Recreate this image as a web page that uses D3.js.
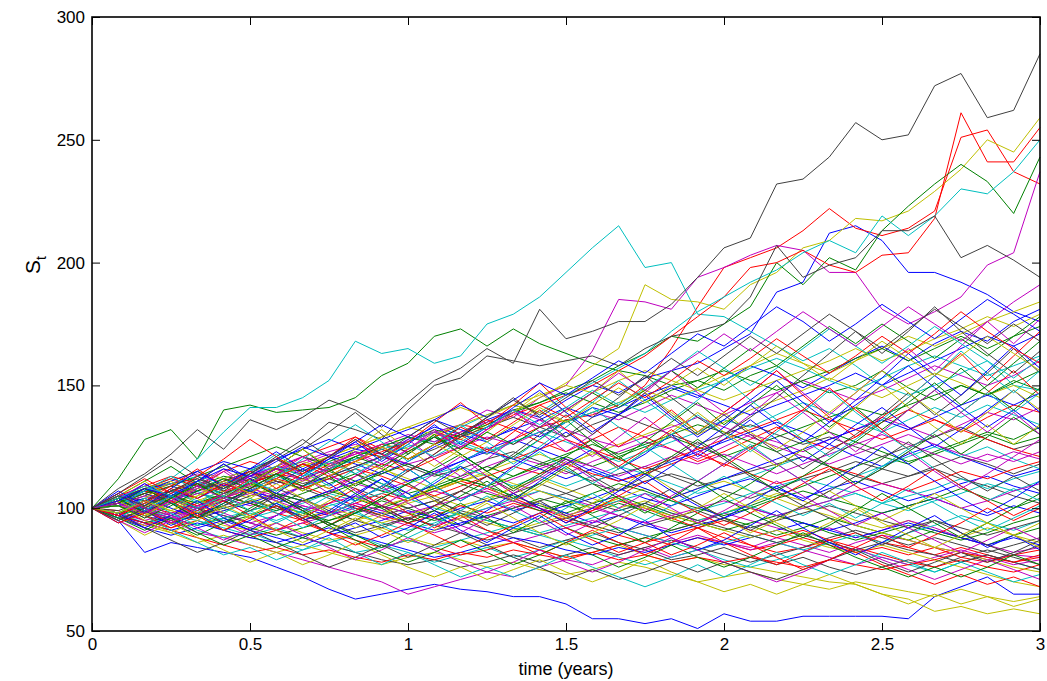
<!DOCTYPE html>
<html>
<head>
<meta charset="utf-8">
<script src="https://cdn.jsdelivr.net/npm/d3@7"></script>
<style>
  body { margin: 0; background: #fff; }
  text { font-family: "Liberation Sans", Arial, Helvetica, sans-serif; }
</style>
</head>
<body>
<div id="chart"></div>
<script>
// Simulated stock price paths S_t, monthly steps over 3 years (37 values per run).
// Runs are grouped by line colour; drawn interleaved b,g,r,c,m,y,k like matlab's colour order.

var blueRuns = [
  "100 | 104 101 106 110 108 113 | 117 115 120 124 122 128 | 133 130 136 140 137 144 | 150 147 153 156 159 165 | 171 188 192 212 215 209 | 196 196 192 187 180 176",
  "100 | 95 82 86 84 82 80 | 76 72 67 63 65 67 | 69 67 66 64 64 61 | 55 55 53 55 51 57 | 54 54 56 56 56 56 | 55 64 68 72 65 65",
  "100 | 98 103 107 104 109 113 | 110 116 121 118 114 119 | 125 130 127 133 129 135 | 141 138 144 149 145 152 | 158 154 149 155 161 166 | 160 167 172 168 176 181",
  "100 | 103 106 102 99 103 107 | 104 109 113 117 121 118 | 114 119 124 128 124 120 | 115 111 115 119 123 127 | 131 135 131 126 121 117 | 122 126 121 117 113 116",
  "100 | 96 92 89 92 95 91 | 88 85 89 92 95 99 | 96 100 103 99 102 98 | 94 97 93 90 93 96 | 100 97 94 91 94 98 | 101 104 100 97 101 98",
  "100 | 102 99 103 107 110 107 | 104 100 97 101 98 94 | 91 94 97 94 98 101 | 104 108 104 101 105 109 | 112 108 104 108 111 107 | 103 106 110 113 109 106",
  "100 | 103 107 111 115 119 116 | 120 124 128 124 128 132 | 136 132 128 132 136 141 | 137 141 146 150 146 142 | 138 142 146 150 155 150 | 155 160 165 170 166 171",
  "100 | 97 94 91 94 91 88 | 86 89 92 89 86 83 | 80 82 85 88 86 83 | 81 84 82 85 88 85 | 88 91 94 91 88 91 | 94 91 88 85 88 85",
  "100 | 101 104 100 96 99 102 | 106 103 107 111 115 111 | 115 119 123 120 116 112 | 116 112 108 104 108 112 | 116 120 124 128 132 136 | 132 137 142 146 142 147",
  "100 | 94 99 105 97 102 108 | 101 95 99 106 112 104 | 110 117 109 103 111 118 | 124 116 122 130 121 128 | 136 128 119 126 134 141 | 133 125 132 140 148 139",
  "100 | 106 99 93 98 91 95 | 102 96 90 94 88 92 | 98 91 86 92 97 90 | 85 89 95 88 83 87 | 93 99 92 86 81 86 | 92 97 90 84 89 83",
  "100 | 103 110 104 111 118 112 | 106 113 120 127 119 126 | 134 126 133 141 148 139 | 131 138 146 137 129 136 | 144 152 143 135 142 150 | 158 149 141 133 140 132",
  "100 | 98 92 97 103 96 91 | 97 104 98 105 112 106 | 99 93 99 106 100 94 | 100 107 114 107 101 96 | 102 109 103 110 117 125 | 118 111 104 98 104 111",
  "100 | 107 101 108 115 109 116 | 123 116 110 103 109 116 | 109 103 109 117 124 131 | 124 117 110 117 125 133 | 142 134 127 135 144 153 | 163 154 146 156 166 157",
  "100 | 103 108 105 111 116 113 | 119 125 121 127 134 129 | 136 142 137 144 151 146 | 153 160 155 163 171 166 | 174 182 176 168 175 183 | 176 169 177 185 179 172"
];

var greenRuns = [
  "100 | 112 128 132 120 140 142 | 139 140 141 145 154 159 | 170 173 166 173 167 163 | 159 156 154 150 152 148 | 154 158 151 147 150 156 | 149 144 150 146 152 148",
  "100 | 103 107 104 109 113 111 | 116 114 119 123 121 127 | 132 129 135 140 143 148 | 152 158 163 170 168 175 | 182 200 191 202 197 213 | 223 232 240 233 220 243",
  "100 | 103 99 95 98 94 97 | 101 98 95 99 103 100 | 96 93 97 100 104 101 | 98 102 99 95 92 96 | 93 89 92 96 93 90 | 87 91 88 85 89 92",
  "100 | 97 101 105 109 106 110 | 114 118 115 111 107 104 | 108 112 109 105 101 98 | 102 105 101 97 94 98 | 101 105 109 113 117 121 | 118 123 127 131 128 133",
  "100 | 104 108 104 100 103 99 | 102 106 110 114 110 106 | 109 113 117 113 118 122 | 126 122 126 130 134 131 | 127 123 127 131 127 123 | 119 122 126 130 126 129",
  "100 | 97 100 97 101 105 102 | 99 103 107 104 100 104 | 108 112 109 113 117 121 | 117 121 125 129 125 121 | 125 129 133 137 141 138 | 142 146 150 146 151 156",
  "100 | 96 99 96 93 96 92 | 89 92 95 98 101 98 | 95 98 95 92 89 92 | 88 85 88 91 94 91 | 94 97 94 90 87 90 | 93 90 87 90 94 97",
  "100 | 102 106 109 113 117 121 | 125 121 117 121 125 129 | 126 130 134 139 143 147 | 143 139 143 148 152 156 | 152 148 152 156 161 165 | 160 165 170 165 170 174",
  "100 | 98 101 105 102 106 110 | 106 103 106 110 114 118 | 114 110 106 103 99 102 | 106 110 107 103 100 97 | 100 104 107 104 101 98 | 101 104 108 104 100 104",
  "100 | 95 100 94 89 94 100 | 106 100 94 89 84 90 | 96 102 96 90 96 103 | 97 91 86 92 98 104 | 98 93 88 93 99 106 | 100 94 88 94 100 106",
  "100 | 105 111 117 110 104 110 | 117 124 116 109 115 122 | 130 122 115 121 128 136 | 127 120 127 135 143 134 | 142 150 141 133 141 132 | 140 148 157 148 140 149",
  "100 | 96 91 96 90 85 89 | 84 88 93 87 82 78 | 82 87 82 77 81 86 | 81 76 80 85 80 76 | 80 85 90 85 80 76 | 72 76 72 76 81 77",
  "100 | 102 108 102 96 102 108 | 114 107 113 106 100 94 | 99 105 111 104 110 117 | 110 104 98 104 111 104 | 110 117 124 117 110 116 | 123 130 122 129 137 130",
  "100 | 104 98 104 110 104 111 | 105 99 93 98 104 110 | 116 122 115 108 114 121 | 128 121 114 121 128 121 | 114 107 113 120 127 135 | 143 151 142 150 159 168",
  "100 | 101 96 101 107 112 108 | 114 109 115 121 117 123 | 129 124 131 126 133 140 | 147 141 148 156 149 157 | 165 158 166 174 167 175 | 168 161 169 162 170 178"
];

var redRuns = [
  "100 | 103 99 104 108 112 110 | 116 112 108 113 118 115 | 120 125 122 128 133 136 | 138 142 150 165 182 198 | 202 206 213 222 214 211 | 214 221 251 254 237 232",
  "100 | 98 102 105 101 106 110 | 114 112 118 122 126 123 | 129 134 132 138 142 146 | 150 156 162 170 178 186 | 198 200 205 199 196 203 | 204 218 261 241 241 255",
  "100 | 104 108 112 109 115 119 | 116 121 125 129 124 120 | 126 131 136 132 127 123 | 128 133 129 124 119 123 | 128 133 128 124 129 135 | 140 136 131 137 142 139",
  "100 | 99 95 92 95 91 88 | 91 94 90 87 84 87 | 84 81 83 86 83 80 | 82 85 88 85 88 86 | 83 85 88 85 82 84 | 81 84 80 78 81 83",
  "100 | 98 101 98 102 105 102 | 98 95 98 102 106 103 | 107 111 108 104 100 96 | 99 103 100 96 92 95 | 91 88 91 87 90 86 | 84 81 84 81 78 80",
  "100 | 103 107 104 101 104 108 | 112 109 105 101 97 94 | 97 101 98 102 99 95 | 92 89 86 89 92 88 | 85 82 84 87 84 81 | 78 76 79 76 74 77",
  "100 | 102 106 110 107 111 115 | 111 108 112 116 113 109 | 105 109 113 117 114 118 | 114 111 114 118 122 118 | 114 110 113 117 114 110 | 107 111 115 112 116 119",
  "100 | 105 109 113 110 107 110 | 114 118 115 119 123 127 | 131 128 124 120 124 128 | 124 120 116 120 124 128 | 132 136 140 136 132 128 | 132 136 132 128 124 121",
  "100 | 97 94 91 88 85 82 | 84 81 83 80 78 81 | 79 82 80 83 81 79 | 82 79 81 78 80 78 | 80 78 76 79 77 75 | 77 79 82 80 78 81",
  "100 | 105 99 94 99 105 112 | 105 99 93 99 105 98 | 92 97 91 86 81 86 | 91 86 81 86 92 86 | 81 77 82 87 82 77 | 73 69 73 69 72 68",
  "100 | 97 103 109 116 109 115 | 108 114 121 128 120 127 | 135 143 134 142 151 141 | 133 125 132 140 131 139 | 147 156 146 137 129 137 | 145 154 163 152 162 172",
  "100 | 103 97 92 97 103 97 | 91 96 102 108 101 95 | 101 107 113 106 100 94 | 99 105 111 104 98 93 | 98 104 110 116 109 103 | 109 116 109 103 97 102",
  "100 | 94 98 103 97 91 96 | 101 95 90 85 89 94 | 89 84 88 93 98 92 | 87 82 86 81 85 90 | 85 80 75 79 84 89 | 84 89 94 100 95 100",
  "100 | 106 112 106 113 120 128 | 121 114 121 129 122 115 | 122 130 123 131 140 132 | 124 117 124 132 124 117 | 124 132 140 149 140 132 | 124 131 139 147 156 146",
  "100 | 97 102 108 104 110 106 | 112 118 113 119 125 120 | 126 133 128 135 142 137 | 144 151 145 152 160 154 | 161 169 162 155 162 170 | 163 171 180 172 165 159"
];

var cyanRuns = [
  "100 | 104 108 112 120 131 141 | 141 145 152 168 163 165 | 159 162 175 179 186 196 | 206 215 198 200 179 178 | 172 166 160 165 158 150 | 146 150 155 160 150 148",
  "100 | 101 97 102 106 104 109 | 113 118 115 121 125 129 | 127 133 138 142 139 146 | 151 157 163 172 180 186 | 192 197 204 209 204 219 | 211 219 230 228 237 250",
  "100 | 97 94 96 91 88 90 | 86 83 86 89 85 82 | 78 81 84 80 83 87 | 84 80 77 80 83 79 | 76 79 82 86 83 80 | 77 74 78 81 78 75",
  "100 | 103 100 104 108 112 116 | 113 109 112 116 121 125 | 129 126 122 127 131 127 | 123 119 123 127 131 136 | 133 138 143 139 135 131 | 136 141 137 142 138 134",
  "100 | 101 104 107 103 100 96 | 99 102 106 103 106 110 | 114 117 113 109 113 109 | 113 117 114 110 106 109 | 113 117 121 117 113 117 | 121 125 121 125 120 116",
  "100 | 98 94 97 95 92 89 | 92 88 85 82 84 87 | 84 87 90 93 90 93 | 96 99 102 98 95 98 | 101 97 100 103 106 102 | 105 108 112 108 112 115",
  "100 | 104 100 96 93 96 99 | 102 98 101 104 108 104 | 100 97 100 104 107 104 | 100 103 106 103 99 102 | 106 109 112 109 106 102 | 99 103 106 110 107 111",
  "100 | 96 99 102 99 95 98 | 95 99 102 98 94 91 | 94 98 95 92 89 86 | 89 92 89 86 83 86 | 89 86 83 86 89 86 | 90 93 97 94 91 95",
  "100 | 103 107 110 113 110 114 | 117 113 116 120 124 127 | 131 127 123 127 131 135 | 139 143 139 144 148 152 | 157 161 157 152 148 153 | 158 162 158 154 158 162",
  "100 | 96 102 108 102 108 115 | 122 115 109 116 110 104 | 111 118 125 118 125 133 | 141 133 125 118 111 118 | 126 118 111 104 110 117 | 124 116 109 103 108 103",
  "100 | 103 97 91 86 81 84 | 79 83 88 82 77 82 | 77 72 76 72 76 81 | 76 72 68 72 77 72 | 77 82 77 73 77 82 | 78 74 78 74 70 73",
  "100 | 101 107 113 107 101 107 | 113 120 127 134 127 119 | 126 134 127 120 128 135 | 143 152 144 136 144 153 | 144 136 128 121 128 136 | 145 154 164 155 147 156",
  "100 | 105 99 105 111 105 99 | 94 99 105 99 93 88 | 93 99 105 99 94 100 | 106 100 95 101 107 113 | 107 102 97 102 96 102 | 108 102 96 91 96 101",
  "100 | 98 104 98 93 98 104 | 98 92 97 103 109 116 | 109 103 109 116 123 116 | 110 116 123 130 138 130 | 123 131 139 148 139 131 | 124 131 139 147 139 147",
  "100 | 104 109 105 100 105 111 | 107 113 119 114 120 126 | 121 127 133 140 134 141 | 148 142 149 156 164 157 | 150 157 165 173 166 159 | 166 174 167 160 153 161"
];

var magentaRuns = [
  "100 | 98 103 107 104 110 115 | 112 118 122 119 126 127 | 131 134 140 137 145 150 | 164 185 184 181 194 198 | 203 207 205 196 196 181 | 175 180 186 199 204 237",
  "100 | 96 93 95 90 88 85 | 82 79 76 73 70 65 | 68 71 74 72 76 79 | 77 81 84 80 83 86 | 84 88 85 82 86 89 | 87 84 82 79 81 80",
  "100 | 102 106 103 100 104 101 | 105 109 113 110 107 111 | 115 112 117 121 118 114 | 119 123 127 124 120 125 | 130 127 123 128 132 137 | 133 129 134 139 136 141",
  "100 | 97 93 96 100 97 94 | 97 101 98 102 99 96 | 93 96 100 103 107 104 | 101 97 94 91 94 98 | 95 92 89 92 88 91 | 95 92 88 85 82 84",
  "100 | 103 107 110 114 110 113 | 116 119 123 126 122 118 | 121 125 129 126 131 135 | 139 136 141 146 142 138 | 143 147 152 148 144 148 | 153 158 154 150 154 160",
  "100 | 101 105 102 106 109 113 | 117 121 118 122 126 130 | 127 131 135 140 136 132 | 128 125 129 133 137 133 | 129 125 121 118 122 126 | 130 126 122 119 123 120",
  "100 | 98 95 98 101 98 94 | 91 94 97 100 96 93 | 90 93 89 86 89 92 | 95 92 89 86 89 86 | 83 86 83 80 77 80 | 77 80 83 80 77 79",
  "100 | 103 100 97 101 104 108 | 105 101 98 102 99 103 | 107 104 108 112 116 120 | 117 113 117 121 118 122 | 118 114 118 122 126 130 | 126 122 118 122 119 123",
  "100 | 96 99 96 100 103 106 | 103 99 102 105 101 98 | 101 104 107 103 100 97 | 100 97 94 97 100 103 | 100 97 100 103 107 110 | 107 104 100 103 107 110",
  "100 | 104 110 103 109 116 109 | 103 109 116 123 116 124 | 132 124 132 140 131 123 | 130 138 147 156 147 139 | 147 156 147 138 147 156 | 165 156 166 176 167 177",
  "100 | 95 90 95 100 94 89 | 94 89 84 79 83 88 | 83 78 74 78 83 78 | 74 78 83 88 83 78 | 74 70 74 79 84 79 | 75 71 75 79 75 71",
  "100 | 102 96 102 108 115 108 | 114 121 114 107 101 107 | 114 121 113 106 112 119 | 112 105 99 105 111 118 | 125 118 111 104 110 116 | 123 115 108 114 121 128",
  "100 | 97 103 97 92 87 92 | 97 103 97 103 109 102 | 96 90 96 101 95 89 | 94 100 106 100 94 99 | 105 111 105 99 93 98 | 92 87 82 87 92 87",
  "100 | 106 100 94 100 106 113 | 120 113 106 113 120 128 | 120 113 120 128 136 128 | 121 129 137 129 122 130 | 138 147 139 131 123 131 | 140 148 139 131 139 130",
  "100 | 102 98 103 109 104 110 | 116 111 117 123 118 124 | 131 125 132 139 133 140 | 147 155 148 156 163 171 | 164 172 180 173 166 174 | 182 175 168 176 184 191"
];

var yellowRuns = [
  "100 | 102 106 103 108 112 110 | 115 119 116 121 126 124 | 130 128 134 139 145 151 | 158 165 191 185 184 181 | 191 196 206 209 218 217 | 221 229 238 250 245 259",
  "100 | 102 98 95 97 93 91 | 94 90 87 89 92 88 | 85 87 84 86 83 80 | 82 85 81 78 80 77 | 76 74 72 70 69 65 | 63 58 60 57 59 57",
  "100 | 101 97 99 103 107 104 | 100 96 99 95 98 102 | 105 101 104 108 112 108 | 104 100 103 99 95 98 | 102 106 103 99 95 92 | 95 91 88 92 89 86",
  "100 | 104 101 105 102 106 110 | 107 111 115 119 116 112 | 108 111 115 119 122 118 | 122 126 130 134 130 135 | 140 144 148 153 149 145 | 150 155 151 146 150 145",
  "100 | 96 93 90 86 89 85 | 82 85 82 79 77 80 | 82 79 76 78 75 73 | 75 78 76 73 70 72 | 74 71 69 67 70 68 | 66 64 67 64 62 64",
  "100 | 104 108 111 115 112 116 | 120 117 121 125 129 133 | 130 134 138 142 139 135 | 139 143 148 144 149 154 | 158 163 159 155 160 165 | 170 166 171 176 180 184",
  "100 | 101 98 102 105 109 105 | 108 112 108 104 101 104 | 107 111 114 110 107 103 | 100 104 108 104 108 111 | 107 104 100 97 93 90 | 87 84 82 79 76 74",
  "100 | 98 102 99 96 99 103 | 106 103 100 97 94 97 | 101 97 94 91 94 97 | 100 104 100 97 94 91 | 88 91 87 84 82 85 | 82 79 76 73 70 68",
  "100 | 103 101 104 108 105 109 | 113 117 121 125 129 133 | 137 141 137 142 146 150 | 147 152 156 152 148 144 | 148 152 156 160 165 160 | 164 169 173 178 174 179",
  "100 | 95 89 94 88 83 78 | 82 77 81 86 81 76 | 72 76 71 75 79 74 | 70 74 79 74 70 66 | 69 65 69 73 69 65 | 61 65 61 64 60 63",
  "100 | 105 111 104 98 104 110 | 117 124 117 124 132 124 | 117 124 131 139 147 139 | 147 156 147 139 131 139 | 131 124 131 139 147 156 | 147 139 131 139 148 140",
  "100 | 103 97 103 97 91 97 | 103 97 103 110 117 110 | 103 97 103 109 102 96 | 102 108 115 108 102 96 | 90 95 101 107 101 95 | 100 106 100 94 89 94",
  "100 | 98 104 111 104 98 104 | 110 104 98 92 97 103 | 109 116 109 103 109 116 | 123 116 123 131 139 131 | 124 117 124 132 141 150 | 141 133 126 134 126 134",
  "100 | 101 95 90 95 101 96 | 91 86 91 96 91 86 | 91 96 102 96 90 85 | 90 95 101 95 100 106 | 100 94 89 94 100 94 | 89 84 89 94 89 84",
  "100 | 98 103 99 105 111 106 | 112 107 113 119 125 120 | 126 121 127 134 141 135 | 142 149 143 150 157 150 | 158 166 159 152 160 168 | 161 154 162 170 163 156"
];

var blackRuns = [
  "100 | 108 114 122 132 124 136 | 132 137 144 140 133 143 | 152 157 165 159 181 169 | 172 176 176 183 194 206 | 210 232 234 243 257 250 | 252 272 277 259 262 285",
  "100 | 103 108 110 112 108 115 | 120 126 135 132 128 140 | 150 153 162 160 158 160 | 162 158 165 170 172 175 | 186 207 194 199 202 213 | 213 219 202 207 201 194",
  "100 | 96 99 102 98 101 105 | 108 104 99 95 92 96 | 99 95 91 88 84 87 | 90 86 83 79 81 84 | 80 77 80 76 73 76 | 79 76 80 83 80 77",
  "100 | 102 105 109 106 103 107 | 111 108 112 108 104 100 | 103 99 96 100 103 106 | 110 107 111 114 111 107 | 104 108 112 115 119 116 | 113 117 121 118 114 118",
  "100 | 105 103 107 110 106 110 | 114 110 113 117 121 117 | 113 116 120 123 119 115 | 111 114 117 113 109 112 | 115 118 121 117 113 110 | 113 116 112 109 105 102",
  "100 | 97 94 97 100 97 94 | 91 88 85 82 79 77 | 79 76 78 81 78 81 | 84 81 84 87 84 81 | 78 81 84 88 91 88 | 85 88 85 82 85 88",
  "100 | 99 103 107 111 108 112 | 116 112 116 120 124 120 | 124 129 133 137 133 129 | 134 138 134 130 126 130 | 134 130 126 129 125 121 | 125 129 133 128 124 127",
  "100 | 104 108 104 107 111 115 | 111 108 104 100 97 100 | 103 107 103 106 110 106 | 102 99 102 98 95 92 | 89 86 89 86 83 86 | 83 81 78 81 78 75",
  "100 | 101 97 94 97 100 103 | 100 97 94 90 93 96 | 93 90 87 90 93 96 | 93 90 93 96 99 95 | 92 95 98 101 98 95 | 92 95 92 89 92 95",
  "100 | 104 98 104 111 118 110 | 117 124 131 139 130 122 | 129 122 115 122 130 138 | 130 138 147 138 130 138 | 130 123 116 123 130 138 | 147 138 146 155 165 155",
  "100 | 97 92 87 82 86 91 | 86 81 76 80 85 80 | 85 90 85 80 76 71 | 75 71 74 78 74 78 | 74 71 75 79 83 78 | 74 78 82 78 82 87",
  "100 | 102 108 102 96 101 107 | 101 96 90 95 101 95 | 101 107 113 107 113 120 | 113 107 113 120 127 120 | 113 107 101 107 113 120 | 127 120 113 107 113 107",
  "100 | 95 100 106 100 94 99 | 105 99 93 98 104 110 | 104 98 93 98 103 97 | 92 97 102 108 102 96 | 91 96 101 96 90 85 | 90 95 90 85 81 85",
  "100 | 106 113 120 113 107 114 | 121 128 121 114 108 115 | 122 129 137 145 137 129 | 137 145 154 145 137 130 | 137 145 154 163 172 163 | 172 182 172 163 155 164",
  "100 | 105 101 107 112 108 114 | 120 115 121 128 122 129 | 136 130 137 144 138 145 | 152 146 153 161 154 162 | 170 163 171 179 172 165 | 173 181 174 167 175 168"
];

var timeTicks = [0, 0.5, 1, 1.5, 2, 2.5, 3];
var priceTicks = [50, 100, 150, 200, 250, 300];
var stepsPerYear = 12;

// matlab default colour order
var runGroups = [
  {runs: blueRuns, color: "#0000ff"},
  {runs: greenRuns, color: "#008000"},
  {runs: redRuns, color: "#ff0000"},
  {runs: cyanRuns, color: "#00bfbf"},
  {runs: magentaRuns, color: "#bf00bf"},
  {runs: yellowRuns, color: "#bfbf00"},
  {runs: blackRuns, color: "#404040"}
];

function parseRun(s) {
  return s.replace(/\|/g, " ").trim().split(/\s+/).map(Number);
}

var W = 1047, H = 681;
var margin = {top: 17, right: 7, bottom: 50, left: 92},
    width = W - margin.left - margin.right,
    height = H - margin.top - margin.bottom;

var svg = d3.select("#chart")
    .append("svg")
    .attr("width", W)
    .attr("height", H)
    .style("background", "#fff")
    .append("g")
    .attr("transform", "translate(" + margin.left + "," + margin.top + ")");

var x = d3.scaleLinear().domain([0, 3]).range([0, width]);
var y = d3.scaleLinear().domain([50, 300]).range([height, 0]);

var line = d3.line()
    .x(function(d, i) { return x(i / stepsPerYear); })
    .y(function(d) { return y(d); });

// interleave so colours cycle b,g,r,c,m,y,k
var nPerGroup = blueRuns.length;
var allRuns = [];
for (var j = 0; j < nPerGroup; j++) {
  runGroups.forEach(function(g) {
    if (g.runs[j]) allRuns.push({values: parseRun(g.runs[j]), color: g.color});
  });
}

svg.append("g")
    .selectAll("path")
    .data(allRuns)
    .enter().append("path")
    .attr("fill", "none")
    .attr("stroke", function(d) { return d.color; })
    .attr("stroke-width", 1)
    .attr("d", function(d) { return line(d.values); });

// axes, ticks pointing inwards on all four sides
var fmt = function(d) { return String(d); };

svg.append("g")
    .attr("transform", "translate(0," + height + ")")
    .call(d3.axisBottom(x).tickValues(timeTicks).tickFormat(fmt).tickSize(-8).tickSizeOuter(0).tickPadding(7));
svg.append("g")
    .call(d3.axisLeft(y).tickValues(priceTicks).tickFormat(fmt).tickSize(-8).tickSizeOuter(0).tickPadding(7));
svg.append("g")
    .call(d3.axisTop(x).tickValues(timeTicks).tickFormat("").tickSize(-8).tickSizeOuter(0));
svg.append("g")
    .attr("transform", "translate(" + width + ",0)")
    .call(d3.axisRight(y).tickValues(priceTicks).tickFormat("").tickSize(-8).tickSizeOuter(0));

svg.selectAll(".tick line").attr("stroke", "#000").attr("stroke-width", 1);
svg.selectAll(".domain").remove();
svg.selectAll(".tick text")
    .attr("fill", "#000")
    .style("font-size", "17px")
    .style("font-family", "'Liberation Sans', Arial, sans-serif");

svg.append("rect")
    .attr("width", width)
    .attr("height", height)
    .attr("fill", "none")
    .attr("stroke", "#000")
    .attr("stroke-width", 1.6);

// labels
svg.append("text")
    .attr("x", x(1.5))
    .attr("y", height + 44)
    .attr("text-anchor", "middle")
    .style("font-size", "18px")
    .text("time (years)");

var ylab = svg.append("text")
    .attr("transform", "translate(" + (40 - margin.left) + "," + (265 - margin.top) + ") rotate(-90)")
    .attr("text-anchor", "middle")
    .style("font-size", "21px");
ylab.append("tspan").text("S");
ylab.append("tspan").attr("dy", 6).style("font-size", "14px").text("t");
</script>
</body>
</html>
